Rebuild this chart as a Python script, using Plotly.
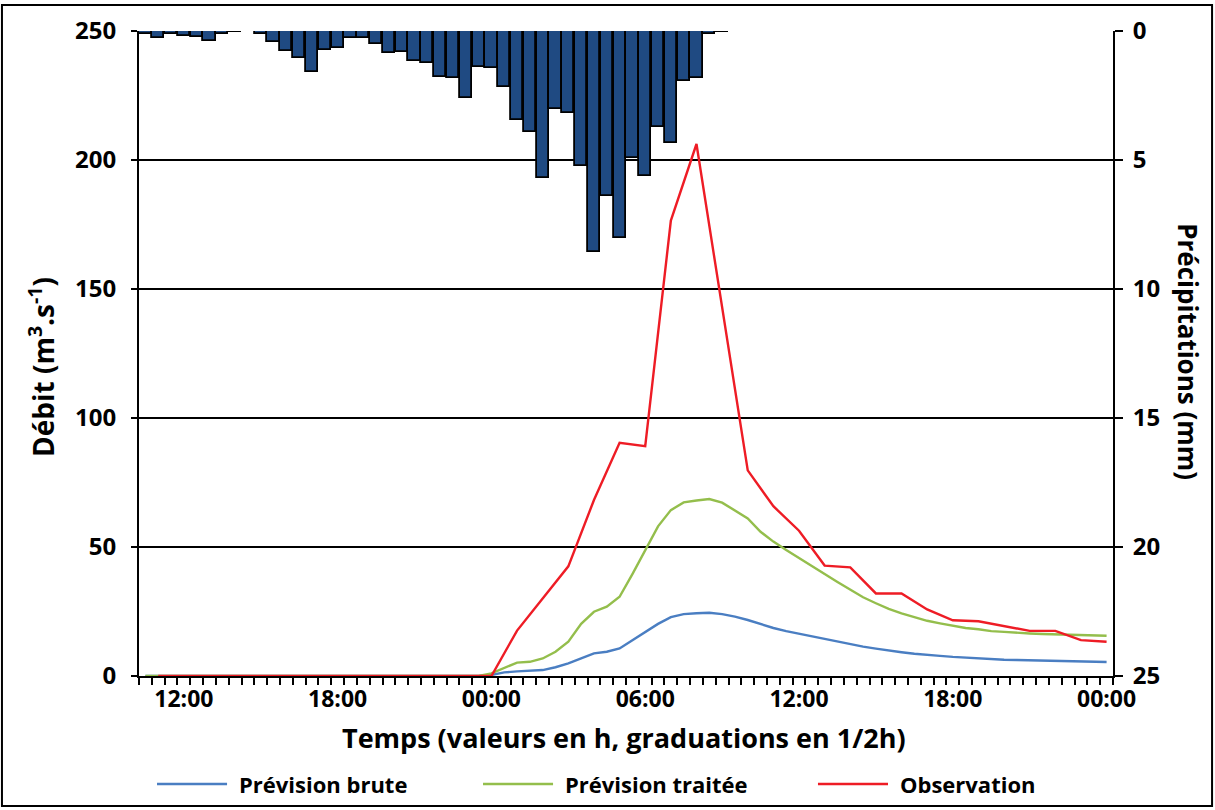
import plotly.graph_objects as go

# ---- data (half-hour steps, index 0 = 10:30, index 75 = 00:00 two days later) ----
step_index = list(range(76))
tick_index = [3, 15, 27, 39, 51, 63, 75]
tick_labels = ["12:00", "18:00", "00:00", "06:00", "12:00", "18:00", "00:00"]

precip_mm = [0.1, 0.28, 0.13, 0.19, 0.22, 0.37, 0.12, 0.05, 0.0, 0.1,
             0.41, 0.76, 1.03, 1.58, 0.74, 0.65, 0.26, 0.26, 0.5, 0.87,
             0.83, 1.16, 1.23, 1.77, 1.84, 2.61, 1.38, 1.45, 2.16, 3.45,
             3.9, 5.71, 3.04, 3.17, 5.23, 8.55, 6.4, 8.04, 4.93, 5.62,
             3.71, 4.33, 1.94, 1.84, 0.12, 0.04, 0, 0, 0, 0,
             0, 0, 0, 0, 0, 0, 0, 0, 0, 0,
             0, 0, 0, 0, 0, 0, 0, 0, 0, 0,
             0, 0, 0, 0, 0, 0]

prev_brute = [0] * 27 + [0.4, 1.4, 1.8, 2.1, 2.3, 3.4, 4.9, 6.8, 8.8, 9.4,
                         10.7, 13.9, 17.1, 20.2, 22.8, 24.0, 24.3, 24.5, 24.0, 23.0,
                         21.7, 20.0, 18.6, 17.4, 16.4, 15.5, 14.5, 13.3, 12.3, 11.4,
                         10.6, 9.8, 9.2, 8.6, 8.1, 7.8, 7.4, 7.1, 6.9, 6.6,
                         6.3, 6.2, 6.1, 5.9, 5.8, 5.7, 5.5, 5.4, 5.4]

prev_traitee = [0] * 27 + [1.0, 3.0, 5.2, 5.5, 6.8, 9.4, 13.3, 20.2, 24.9, 26.9,
                           30.7, 39.5, 49.0, 58.0, 64.3, 67.3, 68.0, 68.6, 67.2, 64.3,
                           61.1, 55.9, 52.1, 48.8, 45.6, 42.6, 39.5, 36.4, 33.3, 30.5,
                           28.2, 26.0, 24.3, 22.7, 21.4, 20.4, 19.5, 18.6, 18.1, 17.4,
                           17.1, 16.7, 16.5, 16.3, 16.2, 16.0, 15.9, 15.8, 15.6]

# observations are hourly (odd indices); half-hour slots without a measure are None
observation = [None, 0, None, 0, None, 0, None, 0, None, 0,
               None, 0, None, 0, None, 0, None, 0, None, 0,
               None, 0, None, 0, None, 0, None, 0, None, 17.6,
               None, 30.0, None, 42.5, None, 68.2, None, 90.4, None, 89.1,
               None, 176.5, None, 206.2, None, 143.0, None, 79.7, None, 65.8,
               None, 56.3, None, 42.8, None, 42.1, None, 32.0, None, 32.0,
               None, 25.8, None, 21.6, None, 21.2, None, 19.3, None, 17.5,
               None, 17.5, None, 13.9, None, 13.3]

series_names = ["Prévision brute", "Prévision traitée", "Observation"]
series_colors = ["#4A7EC2", "#94BE4C", "#EE1C25"]

FONT = "Open Sans"

fig = go.Figure()

fig.add_trace(go.Bar(x=step_index, y=precip_mm, yaxis="y2", width=0.95,
                     marker=dict(color="#1F4A82", line=dict(color="black", width=1.8)),
                     showlegend=False, name="Précipitations"))
for vals, name, col in zip([prev_brute, prev_traitee, observation], series_names, series_colors):
    fig.add_trace(go.Scatter(x=step_index, y=vals, mode="lines", name=name,
                             connectgaps=True, showlegend=False,
                             line=dict(color=col, width=2.4)))

# legend drawn as sample lines + text below the plot (paper coordinates)
legend_line_x0 = [0.0185, 0.3532, 0.6971]
legend_line_len = 0.0719
legend_text_gap = 0.0103
legend_y = -0.1674
shapes = [dict(type="rect", xref="paper", yref="paper",
               x0=-0.1407, x1=1.1017, y0=-0.2016, y1=1.0403,
               line=dict(color="black", width=2), fillcolor="rgba(0,0,0,0)", layer="below")]
annotations = [
    dict(text="Débit (m<sup>3</sup>.s<sup>-1</sup>)", xref="paper", yref="paper",
         x=-0.1006, y=0.479, xanchor="center", yanchor="middle",
         showarrow=False, textangle=-90,
         font=dict(size=28, family=FONT, weight="bold")),
    dict(text="Précipitations (mm)", xref="paper", yref="paper",
         x=1.077, y=0.502, xanchor="center", yanchor="middle",
         showarrow=False, textangle=90,
         font=dict(size=26, family=FONT, weight="bold")),
    dict(text="Temps (valeurs en h, graduations en 1/2h)", xref="paper", yref="paper",
         x=0.498, y=-0.096, xanchor="center", yanchor="middle", showarrow=False,
         font=dict(size=27, family=FONT, weight="bold")),
]
for x0, name, col in zip(legend_line_x0, series_names, series_colors):
    shapes.append(dict(type="line", xref="paper", yref="paper",
                       x0=x0, x1=x0 + legend_line_len, y0=legend_y, y1=legend_y,
                       line=dict(color=col, width=2.4)))
    annotations.append(dict(text=name, xref="paper", yref="paper",
                            x=x0 + legend_line_len + legend_text_gap, y=legend_y,
                            xanchor="left", yanchor="middle", showarrow=False,
                            font=dict(size=22, family=FONT, weight="bold")))

fig.update_layout(
    width=1215, height=810,
    margin=dict(l=139, r=102, t=31, b=134, autoexpand=False),
    paper_bgcolor="white", plot_bgcolor="white",
    font=dict(family=FONT, color="black", size=18, weight="bold"),
    bargap=0, showlegend=False,
    xaxis=dict(range=[-0.5, 75.5], tickvals=tick_index, ticktext=tick_labels,
               ticks="", showgrid=False, zeroline=False,
               showline=True, linecolor="black", linewidth=2,
               tickfont=dict(size=23, family=FONT, weight="bold"),
               ticklabelstandoff=1,
               minor=dict(ticks="outside", tick0=-0.5, dtick=1, ticklen=7,
                          tickwidth=2, tickcolor="black", showgrid=False)),
    yaxis=dict(range=[0, 250], tickvals=[0, 50, 100, 150, 200, 250],
               ticks="outside", ticklen=6, tickwidth=2, tickcolor="black",
               showline=True, linecolor="black", linewidth=2,
               showgrid=True, gridcolor="black", gridwidth=2, zeroline=False,
               tickfont=dict(size=24, family=FONT, weight="bold"),
               ticklabelstandoff=10),
    yaxis2=dict(range=[25, 0], tickvals=[0, 5, 10, 15, 20, 25], overlaying="y", side="right",
                ticks="outside", ticklen=8, tickwidth=2, tickcolor="black",
                showline=True, linecolor="black", linewidth=2,
                showgrid=False, zeroline=False,
                tickfont=dict(size=24, family=FONT, weight="bold"),
                ticklabelstandoff=5),
    annotations=annotations,
    shapes=shapes,
)

fig.write_html("out.html", config={"displayModeBar": False},
               post_script="document.body.style.margin='0px';")
